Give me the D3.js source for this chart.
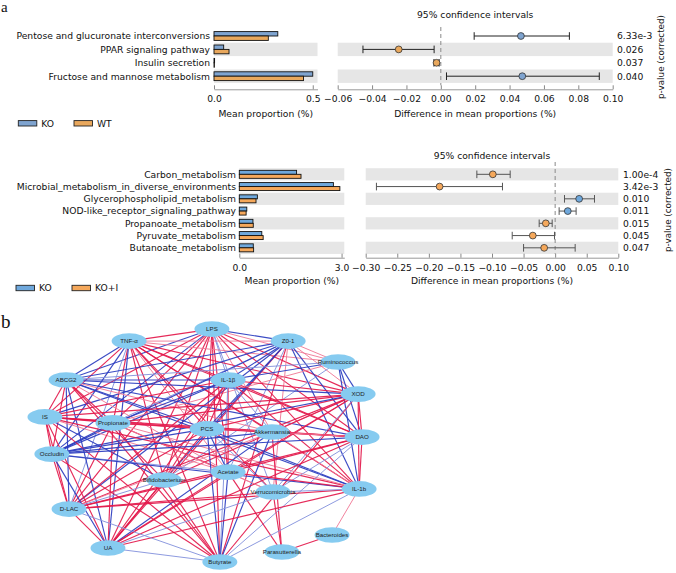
<!DOCTYPE html>
<html><head><meta charset="utf-8">
<script src="https://cdn.jsdelivr.net/npm/d3@7"></script>
<style>body{margin:0;background:#fff}svg text{font-family:"DejaVu Sans",sans-serif}</style>
</head><body><svg id="c" width="676" height="573"></svg>
<script>
// ---------- Panel a (top): KO vs WT ----------
const cats1 = ["Pentose and glucuronate interconversions","PPAR signaling pathway","Insulin secretion","Fructose and mannose metabolism"];
const grpA1 = [0.323, 0.049, 0.003, 0.500];   // KO
const grpB1 = [0.275, 0.076, 0.002, 0.453];   // WT
const diff1 = [0.0466, -0.0245, -0.0025, 0.0474];
const ciLo1 = [0.0194, -0.0453, -0.0040, 0.0033];
const ciHi1 = [0.0748, -0.0039, -0.0010, 0.0922];
const pval1 = ["6.33e-3","0.026","0.037","0.040"];
const barTicks1 = [0, 0.5];
const diffTicks1 = [-0.06,-0.04,-0.02,0,0.02,0.04,0.06,0.08,0.10];
const legend1 = ["KO","WT"];

// ---------- Panel a (bottom): KO vs KO+I ----------
const cats2 = ["Carbon_metabolism","Microbial_metabolism_in_diverse_environments","Glycerophospholipid_metabolism","NOD-like_receptor_signaling_pathway","Propanoate_metabolism","Pyruvate_metabolism","Butanoate_metabolism"];
const grpA2 = [1.68, 2.76, 0.53, 0.22, 0.40, 0.66, 0.41];  // KO
const grpB2 = [1.81, 2.95, 0.49, 0.20, 0.41, 0.70, 0.42];  // KO+I
const diff2 = [-0.0987, -0.183, 0.038, 0.020, -0.0148, -0.0354, -0.0174];
const ciLo2 = [-0.124, -0.283, 0.0148, 0.0063, -0.0253, -0.068, -0.050];
const ciHi2 = [-0.0712, -0.0834, 0.0623, 0.0332, -0.0047, -0.001, 0.0317];
const pval2 = ["1.00e-4","3.42e-3","0.010","0.011","0.015","0.045","0.047"];
const barTicks2 = [0, 3];
const diffTicks2 = [-0.30,-0.25,-0.20,-0.15,-0.10,-0.05,0,0.05,0.10];
const legend2 = ["KO","KO+I"];

// ---------- Panel b: network ----------
const nodeNames = ["LPS","TNF-α","Z0-1","Ruminococcus","ABCG2","IL-1β","XOD","IS","Propionate","PCS","Akkermansia","DAO","Occludin","Acetate","Bifidobacterium","Verrucomicrobia","IL-1b","D-LAC","Bacteroides","Parasutterella","UA","Butyrate"];
const nodeX = [52.1,27.0,75.2,90.3,7.9,57.0,96.4,1.5,22.1,50.6,70.3,97.6,3.6,57.0,37.6,70.6,96.7,8.8,88.5,73.3,20.6,54.5];
const nodeY = [1.7,6.7,6.7,15.4,22.9,22.9,28.8,38.3,40.8,43.3,44.6,46.7,53.8,61.3,64.6,69.6,68.3,76.7,87.5,94.6,92.9,98.75];
// R = strong positive, r = weak positive, B = strong negative, b = weak negative
const edges = [
["LPS","TNF-α","R"],["LPS","Z0-1","B"],["LPS","Ruminococcus","r"],["LPS","ABCG2","B"],["LPS","IL-1β","b"],["LPS","XOD","R"],["LPS","IS","R"],["LPS","Propionate","R"],["LPS","PCS","R"],["LPS","Akkermansia","r"],["LPS","DAO","R"],["LPS","Occludin","B"],["LPS","Acetate","R"],["LPS","Bifidobacterium","R"],["LPS","IL-1b","R"],["LPS","D-LAC","R"],["LPS","UA","R"],["LPS","Butyrate","R"],["LPS","Verrucomicrobia","b"],
["TNF-α","Z0-1","r"],["TNF-α","ABCG2","B"],["TNF-α","IL-1β","R"],["TNF-α","XOD","R"],["TNF-α","IS","R"],["TNF-α","Propionate","R"],["TNF-α","PCS","R"],["TNF-α","Akkermansia","R"],["TNF-α","DAO","R"],["TNF-α","Occludin","B"],["TNF-α","Acetate","r"],["TNF-α","Bifidobacterium","R"],["TNF-α","IL-1b","R"],["TNF-α","D-LAC","b"],["TNF-α","UA","B"],["TNF-α","Butyrate","R"],["TNF-α","Ruminococcus","r"],["TNF-α","Verrucomicrobia","R"],
["Z0-1","Ruminococcus","r"],["Z0-1","ABCG2","B"],["Z0-1","IL-1β","B"],["Z0-1","XOD","r"],["Z0-1","IS","B"],["Z0-1","Propionate","b"],["Z0-1","PCS","B"],["Z0-1","DAO","B"],["Z0-1","Occludin","B"],["Z0-1","Acetate","b"],["Z0-1","IL-1b","B"],["Z0-1","D-LAC","B"],["Z0-1","UA","R"],["Z0-1","Butyrate","R"],["Z0-1","Verrucomicrobia","r"],["Z0-1","Bifidobacterium","B"],
["Ruminococcus","IL-1β","B"],["Ruminococcus","XOD","B"],["Ruminococcus","DAO","B"],["Ruminococcus","IL-1b","B"],["Ruminococcus","Bifidobacterium","b"],["Ruminococcus","ABCG2","b"],["Ruminococcus","Propionate","r"],
["ABCG2","IL-1β","B"],["ABCG2","XOD","B"],["ABCG2","IS","R"],["ABCG2","Propionate","R"],["ABCG2","PCS","B"],["ABCG2","DAO","B"],["ABCG2","Occludin","R"],["ABCG2","Acetate","r"],["ABCG2","Bifidobacterium","R"],["ABCG2","IL-1b","B"],["ABCG2","D-LAC","B"],["ABCG2","UA","B"],["ABCG2","Butyrate","R"],["ABCG2","Akkermansia","r"],
["IL-1β","XOD","R"],["IL-1β","IS","R"],["IL-1β","Propionate","B"],["IL-1β","PCS","R"],["IL-1β","DAO","R"],["IL-1β","Occludin","B"],["IL-1β","Acetate","R"],["IL-1β","Bifidobacterium","R"],["IL-1β","IL-1b","R"],["IL-1β","D-LAC","R"],["IL-1β","UA","R"],["IL-1β","Butyrate","b"],["IL-1β","Akkermansia","b"],
["XOD","IS","R"],["XOD","Propionate","R"],["XOD","PCS","R"],["XOD","Akkermansia","r"],["XOD","DAO","R"],["XOD","Occludin","B"],["XOD","Acetate","R"],["XOD","Bifidobacterium","R"],["XOD","IL-1b","R"],["XOD","D-LAC","R"],["XOD","UA","R"],["XOD","Butyrate","R"],["XOD","Verrucomicrobia","b"],
["IS","Propionate","R"],["IS","PCS","R"],["IS","DAO","R"],["IS","Occludin","R"],["IS","Acetate","r"],["IS","IL-1b","R"],["IS","D-LAC","R"],["IS","UA","R"],["IS","Butyrate","R"],["IS","Bifidobacterium","B"],
["Propionate","PCS","R"],["Propionate","Akkermansia","r"],["Propionate","DAO","R"],["Propionate","Occludin","B"],["Propionate","Acetate","R"],["Propionate","IL-1b","r"],["Propionate","D-LAC","R"],["Propionate","UA","R"],["Propionate","Butyrate","R"],["Propionate","Verrucomicrobia","r"],
["PCS","Akkermansia","r"],["PCS","DAO","R"],["PCS","Occludin","B"],["PCS","Acetate","B"],["PCS","IL-1b","B"],["PCS","D-LAC","R"],["PCS","UA","R"],["PCS","Butyrate","B"],["PCS","Verrucomicrobia","b"],
["Akkermansia","DAO","r"],["Akkermansia","Occludin","B"],["Akkermansia","IL-1b","r"],["Akkermansia","Parasutterella","R"],["Akkermansia","UA","B"],["Akkermansia","Butyrate","B"],["Akkermansia","D-LAC","r"],
["DAO","Occludin","B"],["DAO","Acetate","R"],["DAO","IL-1b","R"],["DAO","D-LAC","R"],["DAO","UA","R"],["DAO","Butyrate","b"],["DAO","Verrucomicrobia","b"],
["Occludin","Acetate","b"],["Occludin","IL-1b","B"],["Occludin","D-LAC","R"],["Occludin","UA","B"],["Occludin","Butyrate","R"],
["Acetate","IL-1b","R"],["Acetate","D-LAC","R"],["Acetate","UA","R"],["Acetate","Butyrate","B"],["Acetate","Parasutterella","R"],["Acetate","Verrucomicrobia","r"],
["Bifidobacterium","Butyrate","R"],["Bifidobacterium","UA","R"],["Bifidobacterium","D-LAC","b"],
["Verrucomicrobia","Parasutterella","R"],["Verrucomicrobia","D-LAC","R"],["Verrucomicrobia","UA","b"],
["IL-1b","D-LAC","R"],["IL-1b","UA","R"],["IL-1b","Butyrate","b"],["IL-1b","Bacteroides","r"],["IL-1b","Verrucomicrobia","b"],
["D-LAC","UA","R"],["D-LAC","Butyrate","b"],["UA","Butyrate","b"],["Bacteroides","Parasutterella","R"]
];

const svg = d3.select("#c");
const FS = 9.2;

function drawPanel(c) {
  const n = c.cats.length;
  const y = d3.scaleBand().domain(d3.range(n)).range([c.top, c.top + n * c.rowH]);
  const xb = d3.scaleLinear().domain(c.barDomain).range(c.barRange);
  const xd = d3.scaleLinear().domain(c.diffDomain).range(c.diffRange);
  const g = svg.append("g");
  d3.range(n).filter(i => (n - 1 - i) % 2 === 0).forEach(i => {
    g.append("rect").attr("x", c.barRange[0]).attr("y", y(i)).attr("width", c.barRange[1] - c.barRange[0]).attr("height", y.bandwidth()).attr("fill", "#e6e6e6");
    g.append("rect").attr("x", c.diffRange[0]).attr("y", y(i)).attr("width", c.diffRange[1] - c.diffRange[0]).attr("height", y.bandwidth()).attr("fill", "#e6e6e6");
  });
  g.selectAll(".lab").data(c.cats).join("text")
    .attr("x", c.labelX).attr("y", (d, i) => y(i) + y.bandwidth() / 2 + 3.3)
    .attr("text-anchor", "end").attr("font-size", FS).attr("fill", "#111").text(d => d);
  const bh = c.barH;
  g.selectAll(".ba").data(c.a).join("rect")
    .attr("x", xb(0)).attr("y", (d, i) => y(i) + y.bandwidth() / 2 - bh)
    .attr("width", d => xb(d) - xb(0)).attr("height", bh)
    .attr("fill", c.colA).attr("stroke", "#111").attr("stroke-width", 0.9);
  g.selectAll(".bb").data(c.b).join("rect")
    .attr("x", xb(0)).attr("y", (d, i) => y(i) + y.bandwidth() / 2)
    .attr("width", d => xb(d) - xb(0)).attr("height", bh)
    .attr("fill", c.colB).attr("stroke", "#111").attr("stroke-width", 0.9);
  const axB = g.append("g").attr("transform", `translate(0,${c.axisY})`)
    .call(d3.axisBottom(xb).tickValues(c.barTicks).tickFormat(d3.format(".1f")).tickSizeInner(-4).tickSizeOuter(0).tickPadding(6.5));
  const axD = g.append("g").attr("transform", `translate(0,${c.axisY})`)
    .call(d3.axisBottom(xd).tickValues(c.diffTicks).tickFormat(d3.format(".2f")).tickSizeInner(-4).tickSizeOuter(0).tickPadding(6.5));
  [axB, axD].forEach(a => {
    a.select(".domain").attr("stroke", "#999");
    a.selectAll(".tick line").attr("stroke", "#888");
    a.selectAll(".tick text").attr("font-size", FS).attr("fill", "#111").attr("font-family", "DejaVu Sans");
  });
  g.append("line").attr("x1", xd(0)).attr("x2", xd(0)).attr("y1", c.dashTop).attr("y2", c.axisY - 4)
    .attr("stroke", "#8a8a8a").attr("stroke-width", 1).attr("stroke-dasharray", "4,3");
  d3.range(n).forEach(i => {
    const cy = y(i) + y.bandwidth() / 2;
    g.append("line").attr("x1", xd(c.lo[i])).attr("x2", xd(c.hi[i])).attr("y1", cy).attr("y2", cy).attr("stroke", c.errCol).attr("stroke-width", 1);
    [c.lo[i], c.hi[i]].forEach(v => g.append("line").attr("x1", xd(v)).attr("x2", xd(v)).attr("y1", cy - 3.8).attr("y2", cy + 3.8).attr("stroke", c.errCol).attr("stroke-width", 1));
    g.append("circle").attr("cx", xd(c.diff[i])).attr("cy", cy).attr("r", 3.4)
      .attr("fill", c.diff[i] > 0 ? c.colA : c.colB).attr("stroke", "#333").attr("stroke-width", 0.8);
    g.append("text").attr("x", c.pX).attr("y", cy + 3.3).attr("font-size", FS).attr("fill", "#111").text(c.p[i]);
  });
  g.append("text").attr("x", (c.diffRange[0] + c.diffRange[1]) / 2).attr("y", c.titleY).attr("text-anchor", "middle").attr("font-size", FS).attr("fill", "#111").text("95% confidence intervals");
  g.append("text").attr("x", (c.barRange[0] + c.barRange[1]) / 2).attr("y", c.xlabY).attr("text-anchor", "middle").attr("font-size", FS).attr("fill", "#111").text("Mean proportion (%)");
  g.append("text").attr("x", (c.diffRange[0] + c.diffRange[1]) / 2).attr("y", c.xlabY).attr("text-anchor", "middle").attr("font-size", FS).attr("fill", "#111").text("Difference in mean proportions (%)");
  g.append("text").attr("transform", `translate(${c.pLabX},${c.pLabY}) rotate(-90)`).attr("text-anchor", "middle").attr("font-size", 8.8).attr("fill", "#111").text("p-value (corrected)");
  c.legend.forEach((name, k) => {
    const lx = c.legX[k];
    g.append("rect").attr("x", lx).attr("y", c.legY - 2.7).attr("width", 18.5).attr("height", 5.4)
      .attr("fill", k === 0 ? c.colA : c.colB).attr("stroke", "#222").attr("stroke-width", 0.9);
    g.append("text").attr("x", lx + 23).attr("y", c.legY + 3.3).attr("font-size", FS).attr("fill", "#111").text(name);
  });
}

drawPanel({cats: cats1, a: grpA1, b: grpB1, diff: diff1, lo: ciLo1, hi: ciHi1, p: pval1,
  barTicks: barTicks1, diffTicks: diffTicks1, legend: legend1,
  labelX: 210, top: 29.3, rowH: 13.4, barH: 4.4, axisY: 89.3,
  barRange: [214, 317.5], barDomain: [0, 0.524], diffRange: [337.7, 612.7], diffDomain: [-0.06, 0.10],
  pX: 617, pLabX: 664, pLabY: 57, titleY: 17.5, xlabY: 116.5, dashTop: 27,
  legX: [18.3, 74], legY: 123.3, colA: "#7fa4d0", colB: "#e9a85d", errCol: "#222"});

drawPanel({cats: cats2, a: grpA2, b: grpB2, diff: diff2, lo: ciLo2, hi: ciHi2, p: pval2,
  barTicks: barTicks2, diffTicks: diffTicks2, legend: legend2,
  labelX: 236, top: 168.2, rowH: 12.25, barH: 4, axisY: 257.7,
  barRange: [239.3, 344.3], barDomain: [0, 3.08], diffRange: [365.7, 618.3], diffDomain: [-0.30, 0.10],
  pX: 623, pLabX: 671, pLabY: 210, titleY: 158.5, xlabY: 283.5, dashTop: 162,
  legX: [16, 72], legY: 288, colA: "#6fa8dc", colB: "#f5a85b", errCol: "#555"});

svg.append("text").attr("x", 1).attr("y", 12).attr("style", "font-family:'Liberation Serif',serif").attr("font-size", 15).attr("fill", "#111").text("a");
svg.append("text").attr("x", 1).attr("y", 328).attr("style", "font-family:'Liberation Serif',serif").attr("font-size", 19).attr("fill", "#111").text("b");

// network
const nx = d3.scaleLinear().domain([0, 100]).range([40, 370]);
const ny = d3.scaleLinear().domain([0, 100]).range([325, 565]);
const idx = new Map(nodeNames.map((d, i) => [d, i]));
const edgeColor = {R: "#e3184b", r: "#f07896", B: "#2a3cbf", b: "#8391dc"};
const edgeWidth = {R: 1.15, r: 1.0, B: 1.15, b: 1.0};
const gN = svg.append("g");
gN.selectAll("line").data(edges).join("line")
  .attr("x1", d => nx(nodeX[idx.get(d[0])])).attr("y1", d => ny(nodeY[idx.get(d[0])]))
  .attr("x2", d => nx(nodeX[idx.get(d[1])])).attr("y2", d => ny(nodeY[idx.get(d[1])]))
  .attr("stroke", d => edgeColor[d[2]]).attr("stroke-width", d => edgeWidth[d[2]]).attr("stroke-opacity", 0.92);
const nodes = gN.selectAll("g.n").data(nodeNames).join("g").attr("class", "n")
  .attr("transform", (d, i) => `translate(${nx(nodeX[i])},${ny(nodeY[i])})`);
nodes.append("ellipse").attr("rx", 17.5).attr("ry", 7.8).attr("fill", "#86cbf0");
nodes.append("text").attr("text-anchor", "middle").attr("y", 2.2).attr("font-size", 6.2)
  .attr("style", "font-family:'Liberation Sans',Arial,sans-serif").attr("fill", "#222").text(d => d);
</script></body></html>
